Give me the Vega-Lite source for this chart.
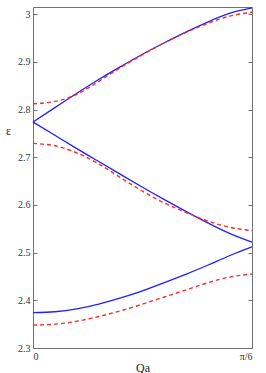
{
  "$schema": "https://vega.github.io/schema/vega-lite/v6.json",
  "width": 219,
  "height": 341,
  "autosize": {"type": "none"},
  "padding": {"left": 33, "top": 7, "right": 14, "bottom": 25},
  "config": {
    "view": {"stroke": "#707070", "strokeWidth": 1},
    "font": "Liberation Serif",
    "axis": {
      "domain": false,
      "grid": false,
      "labelFont": "Liberation Serif",
      "labelFontSize": 10,
      "labelColor": "#333333",
      "tickColor": "#707070",
      "titleFont": "Liberation Serif",
      "titleFontWeight": "normal",
      "titleFontSize": 12,
      "titleColor": "#222222"
    }
  },
  "data": {
    "values": [
      {"s": "b1", "c": "blue", "qa": 0.0, "e": 2.774},
      {"s": "b1", "c": "blue", "qa": 0.1, "e": 2.804},
      {"s": "b1", "c": "blue", "qa": 0.2, "e": 2.834},
      {"s": "b1", "c": "blue", "qa": 0.3, "e": 2.863},
      {"s": "b1", "c": "blue", "qa": 0.4, "e": 2.890},
      {"s": "b1", "c": "blue", "qa": 0.5, "e": 2.916},
      {"s": "b1", "c": "blue", "qa": 0.6, "e": 2.940},
      {"s": "b1", "c": "blue", "qa": 0.7, "e": 2.963},
      {"s": "b1", "c": "blue", "qa": 0.8, "e": 2.984},
      {"s": "b1", "c": "blue", "qa": 0.9, "e": 3.002},
      {"s": "b1", "c": "blue", "qa": 1.0, "e": 3.013},
      {"s": "b2", "c": "blue", "qa": 0.0, "e": 2.774},
      {"s": "b2", "c": "blue", "qa": 0.1, "e": 2.746},
      {"s": "b2", "c": "blue", "qa": 0.2, "e": 2.718},
      {"s": "b2", "c": "blue", "qa": 0.3, "e": 2.691},
      {"s": "b2", "c": "blue", "qa": 0.4, "e": 2.664},
      {"s": "b2", "c": "blue", "qa": 0.5, "e": 2.637},
      {"s": "b2", "c": "blue", "qa": 0.6, "e": 2.611},
      {"s": "b2", "c": "blue", "qa": 0.7, "e": 2.586},
      {"s": "b2", "c": "blue", "qa": 0.8, "e": 2.562},
      {"s": "b2", "c": "blue", "qa": 0.9, "e": 2.540},
      {"s": "b2", "c": "blue", "qa": 1.0, "e": 2.522},
      {"s": "b3", "c": "blue", "qa": 0.0, "e": 2.374},
      {"s": "b3", "c": "blue", "qa": 0.1, "e": 2.376},
      {"s": "b3", "c": "blue", "qa": 0.2, "e": 2.382},
      {"s": "b3", "c": "blue", "qa": 0.3, "e": 2.392},
      {"s": "b3", "c": "blue", "qa": 0.4, "e": 2.405},
      {"s": "b3", "c": "blue", "qa": 0.5, "e": 2.420},
      {"s": "b3", "c": "blue", "qa": 0.6, "e": 2.437},
      {"s": "b3", "c": "blue", "qa": 0.7, "e": 2.455},
      {"s": "b3", "c": "blue", "qa": 0.8, "e": 2.474},
      {"s": "b3", "c": "blue", "qa": 0.9, "e": 2.494},
      {"s": "b3", "c": "blue", "qa": 1.0, "e": 2.512},
      {"s": "r1", "c": "red", "qa": 0.0, "e": 2.812},
      {"s": "r1", "c": "red", "qa": 0.1, "e": 2.817},
      {"s": "r1", "c": "red", "qa": 0.2, "e": 2.832},
      {"s": "r1", "c": "red", "qa": 0.3, "e": 2.859},
      {"s": "r1", "c": "red", "qa": 0.4, "e": 2.888},
      {"s": "r1", "c": "red", "qa": 0.5, "e": 2.915},
      {"s": "r1", "c": "red", "qa": 0.6, "e": 2.940},
      {"s": "r1", "c": "red", "qa": 0.7, "e": 2.962},
      {"s": "r1", "c": "red", "qa": 0.8, "e": 2.981},
      {"s": "r1", "c": "red", "qa": 0.9, "e": 2.996},
      {"s": "r1", "c": "red", "qa": 1.0, "e": 3.004},
      {"s": "r2", "c": "red", "qa": 0.0, "e": 2.729},
      {"s": "r2", "c": "red", "qa": 0.1, "e": 2.724},
      {"s": "r2", "c": "red", "qa": 0.2, "e": 2.709},
      {"s": "r2", "c": "red", "qa": 0.3, "e": 2.686},
      {"s": "r2", "c": "red", "qa": 0.4, "e": 2.657},
      {"s": "r2", "c": "red", "qa": 0.5, "e": 2.629},
      {"s": "r2", "c": "red", "qa": 0.6, "e": 2.604},
      {"s": "r2", "c": "red", "qa": 0.7, "e": 2.584},
      {"s": "r2", "c": "red", "qa": 0.8, "e": 2.566},
      {"s": "r2", "c": "red", "qa": 0.9, "e": 2.553},
      {"s": "r2", "c": "red", "qa": 1.0, "e": 2.546},
      {"s": "r3", "c": "red", "qa": 0.0, "e": 2.348},
      {"s": "r3", "c": "red", "qa": 0.1, "e": 2.350},
      {"s": "r3", "c": "red", "qa": 0.2, "e": 2.356},
      {"s": "r3", "c": "red", "qa": 0.3, "e": 2.366},
      {"s": "r3", "c": "red", "qa": 0.4, "e": 2.378},
      {"s": "r3", "c": "red", "qa": 0.5, "e": 2.392},
      {"s": "r3", "c": "red", "qa": 0.6, "e": 2.407},
      {"s": "r3", "c": "red", "qa": 0.7, "e": 2.422},
      {"s": "r3", "c": "red", "qa": 0.8, "e": 2.437},
      {"s": "r3", "c": "red", "qa": 0.9, "e": 2.449},
      {"s": "r3", "c": "red", "qa": 1.0, "e": 2.455}
    ]
  },
  "layer": [
    {
      "transform": [{"filter": "datum.c == 'blue'"}],
      "mark": {"type": "line", "color": "#1f1fff", "strokeWidth": 1.3, "interpolate": "natural"},
      "encoding": {
        "x": {
          "field": "qa", "type": "quantitative",
          "scale": {"domain": [0, 1], "nice": false, "zero": false},
          "axis": {"orient": "bottom", "values": [0, 1], "ticks": false, "labelPadding": 3,
                   "labelExpr": "datum.value == 0 ? '0' : 'π/6'", "title": "Qa", "titlePadding": 1}
        },
        "y": {
          "field": "e", "type": "quantitative",
          "scale": {"domain": [2.3, 3.015], "nice": false, "zero": false},
          "axis": {"orient": "left", "values": [2.3, 2.4, 2.5, 2.6, 2.7, 2.8, 2.9, 3.0], "format": ".1~f",
                   "tickSize": -4, "labelPadding": 7,
                   "title": "ε", "titleAngle": 0, "titleX": -25, "titleY": 123,
                   "titleAlign": "center", "titleBaseline": "middle"}
        },
        "detail": {"field": "s"}
      }
    },
    {
      "transform": [{"filter": "datum.c == 'red'"}],
      "mark": {"type": "line", "color": "#ff2a2a", "strokeWidth": 1.4, "strokeDash": [4, 3], "interpolate": "natural"},
      "encoding": {
        "x": {"field": "qa", "type": "quantitative", "axis": null},
        "y": {
          "field": "e", "type": "quantitative",
          "axis": {"orient": "right", "values": [2.3, 2.4, 2.5, 2.6, 2.7, 2.8, 2.9, 3.0], "labels": false,
                   "tickSize": -4, "title": null}
        },
        "detail": {"field": "s"}
      }
    }
  ],
  "resolve": {"axis": {"x": "independent", "y": "independent"}}
}
